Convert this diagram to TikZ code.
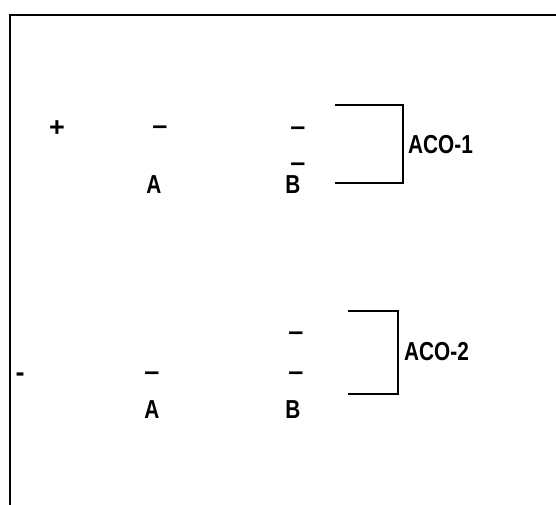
\documentclass[tikz,border=0pt]{standalone}
\usepackage{fontspec}
\setmainfont{Liberation Sans}
\begin{document}
\begin{tikzpicture}[x=1pt,y=-1pt,
  lbl/.style={font=\fontsize{26}{28}\selectfont\bfseries, inner sep=0pt, xscale=0.8, transform shape},
  sgn/.style={font=\fontsize{27}{29}\selectfont\bfseries, inner sep=0pt},
  frame/.style={line width=2.2pt},
  brk/.style={line width=1.4pt}]
\useasboundingbox (0,0) rectangle (556,505);
\draw[frame] (10,505) -- (10,15) -- (556,15);
% row 1
\node[sgn] (p1) at (57,129) {+};
\node[sgn] (a1) at (160,130) {–};
\node[sgn] (b1) at (298,131) {–};
\node[sgn] (b2) at (298,167) {–};
\node[lbl] (A1) at (154,185) {A};
\node[lbl] (B1) at (293,185) {B};
\draw[brk] (335,105) -- (403,105) -- (403,183) -- (335,183);
\node[lbl,anchor=west] (aco1) at (408,145) {ACO-1};
% row 2
\node[sgn] (m2) at (20,377) {-};
\node[sgn] (a2) at (152,376) {–};
\node[sgn] (b3) at (296,336) {–};
\node[sgn] (b4) at (296,376) {–};
\node[lbl] (A2) at (152,410) {A};
\node[lbl] (B2) at (293,410) {B};
\draw[brk] (348,311) -- (398,311) -- (398,394) -- (348,394);
\node[lbl,anchor=west] (aco2) at (404,352) {ACO-2};
\end{tikzpicture}
\end{document}
